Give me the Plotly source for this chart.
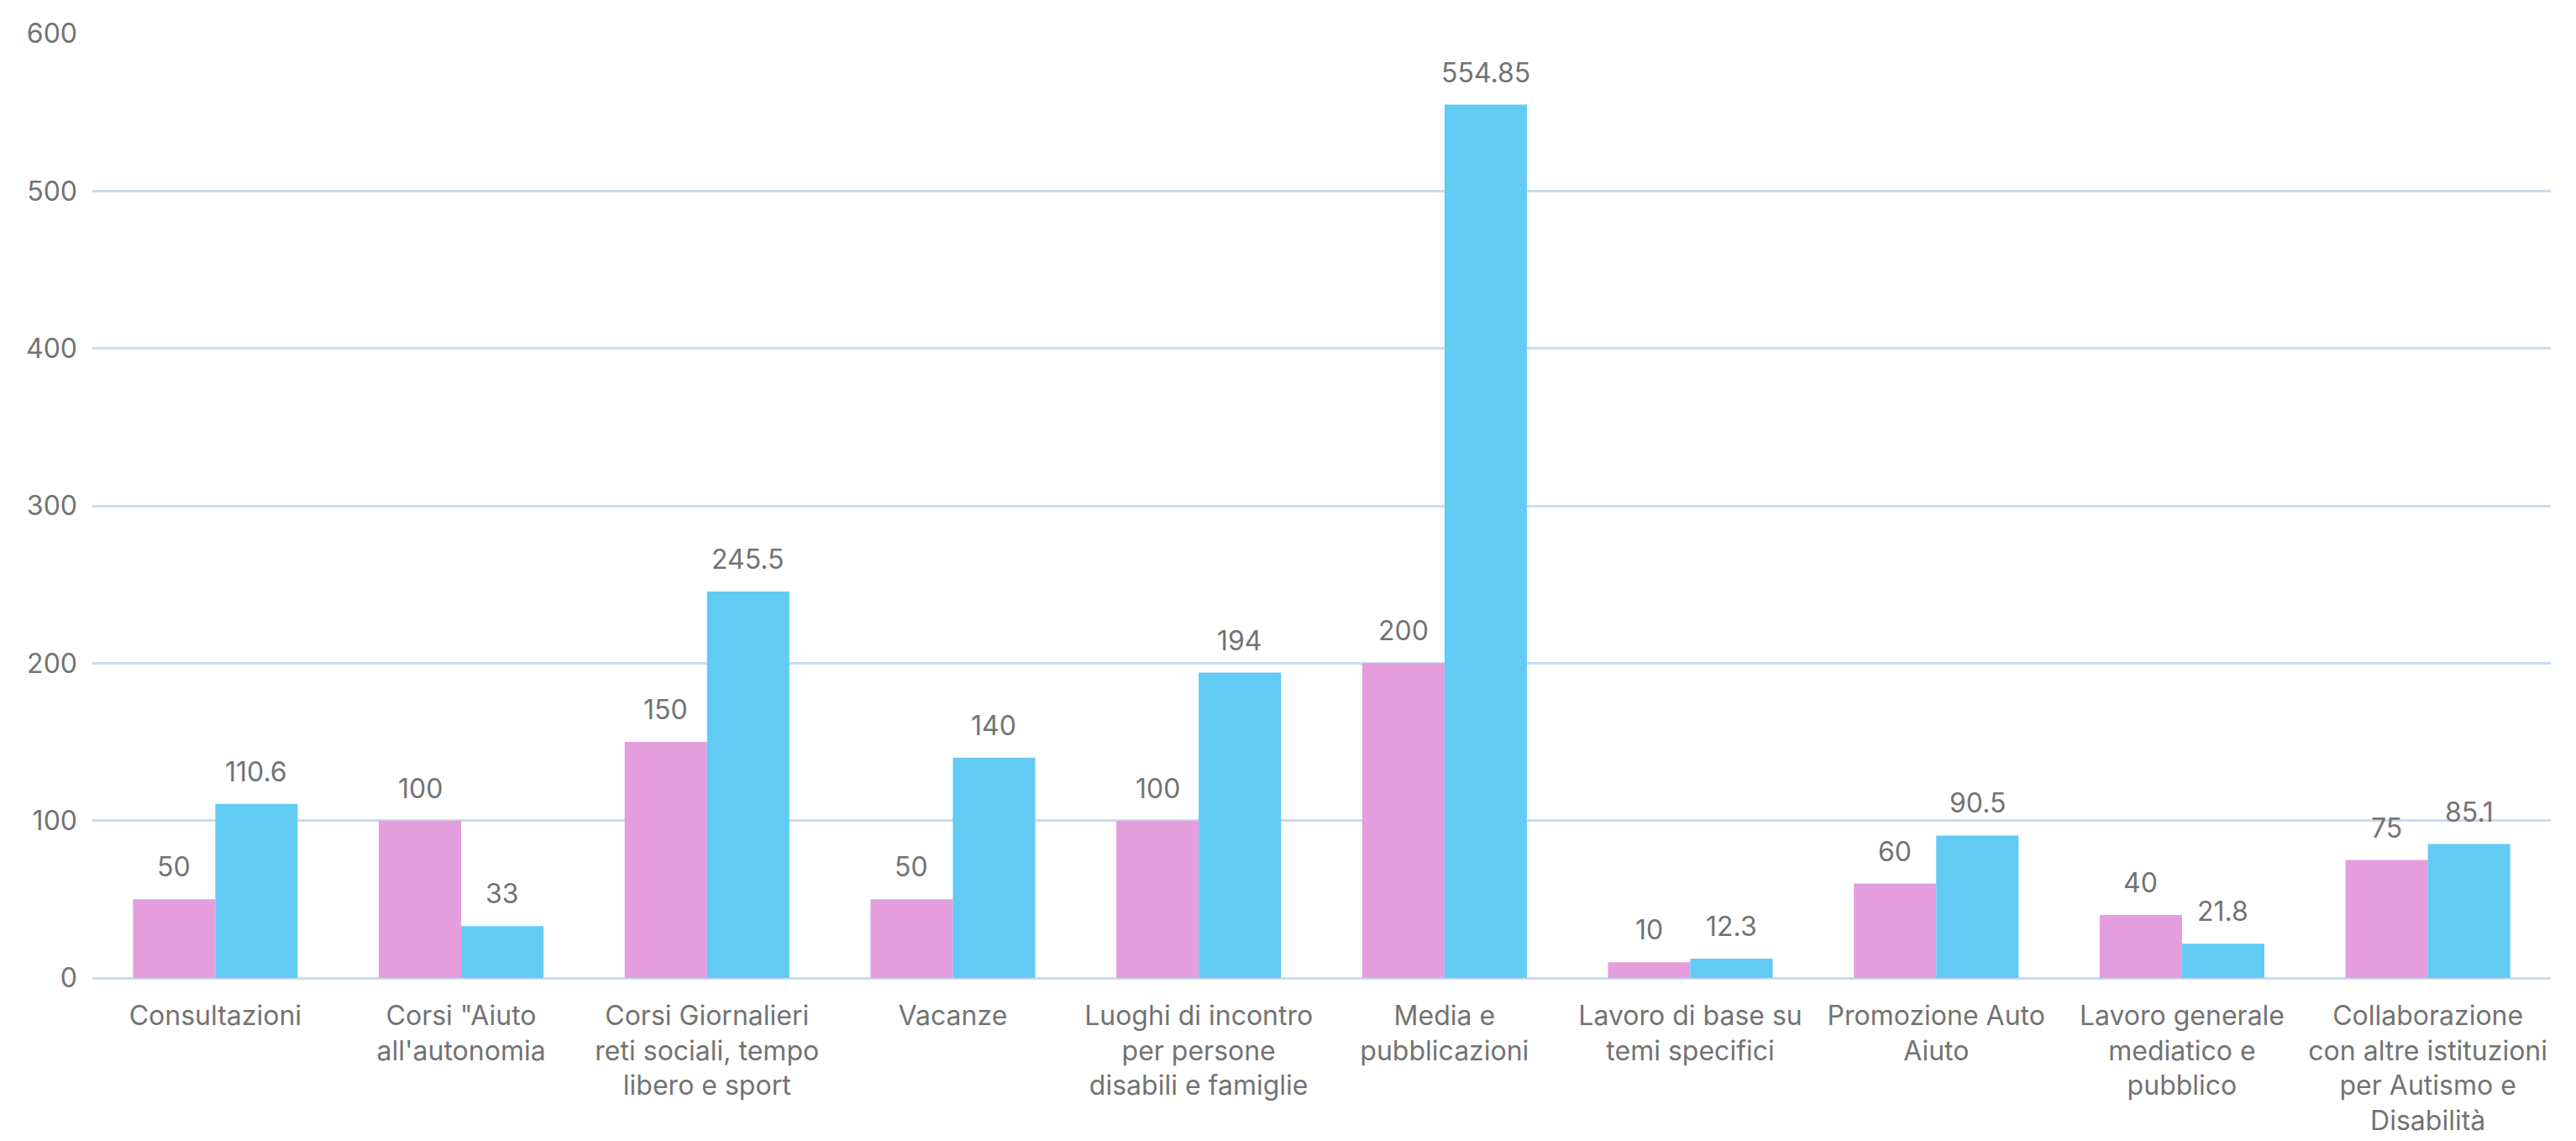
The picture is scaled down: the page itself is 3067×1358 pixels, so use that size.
import plotly.graph_objects as go

categories = [
    "Consultazioni",
    "Corsi \"Aiuto<br>all'autonomia",
    "Corsi Giornalieri<br>reti sociali, tempo<br>libero e sport",
    "Vacanze",
    "Luoghi di incontro<br>per persone<br>disabili e famiglie",
    "Media e<br>pubblicazioni",
    "Lavoro di base su<br>temi specifici",
    "Promozione Auto<br>Aiuto",
    "Lavoro generale<br>mediatico e<br>pubblico",
    "Collaborazione<br>con altre istituzioni<br>per Autismo e<br>Disabilità",
]
series_a = [50, 100, 150, 50, 100, 200, 10, 60, 40, 75]
series_b = [110.6, 33, 245.5, 140, 194, 554.85, 12.3, 90.5, 21.8, 85.1]
y_ticks = [0, 100, 200, 300, 400, 500, 600]

FONT = "Inter, Roboto, sans-serif"
GRAY = "#737373"
FS = 32
GRID = "#C8DCF2"
BAR_HALF = 49  # pixel offset of each bar centre from its group centre

fig = go.Figure()
fig.add_trace(go.Bar(x=categories, y=series_a, marker=dict(color="#E49EDD", line=dict(width=0))))
fig.add_trace(go.Bar(x=categories, y=series_b, marker=dict(color="#61CBF3", line=dict(width=0))))

annotations = []
for cat, va, vb in zip(categories, series_a, series_b):
    for val, shift in ((va, -BAR_HALF), (vb, BAR_HALF)):
        annotations.append(dict(
            x=cat, y=val, xref="x", yref="y", text=f"{val:g}", showarrow=False,
            xshift=shift, yshift=17, yanchor="bottom", xanchor="center",
            font=dict(family=FONT, size=FS, color=GRAY)))

fig.update_layout(
    width=3067, height=1358,
    margin=dict(l=102, r=38, t=23, b=202),
    paper_bgcolor="white", plot_bgcolor="white",
    barmode="group", bargap=0.33, bargroupgap=0,
    showlegend=False,
    font=dict(family=FONT, size=FS, color=GRAY),
    annotations=annotations,
)
fig.update_xaxes(showgrid=False, showline=False, ticks="", tickfont=dict(family=FONT, size=FS, color=GRAY),
                 tickangle=0, ticklabelstandoff=23)
fig.update_yaxes(range=[0, 600], tickvals=y_ticks, showgrid=True, gridcolor=GRID, gridwidth=2.5,
                 zeroline=True, zerolinecolor=GRID, zerolinewidth=2.5, showline=False, ticks="",
                 tickfont=dict(family=FONT, size=FS, color=GRAY), ticklabelstandoff=17)

fig.write_html("out.html")
